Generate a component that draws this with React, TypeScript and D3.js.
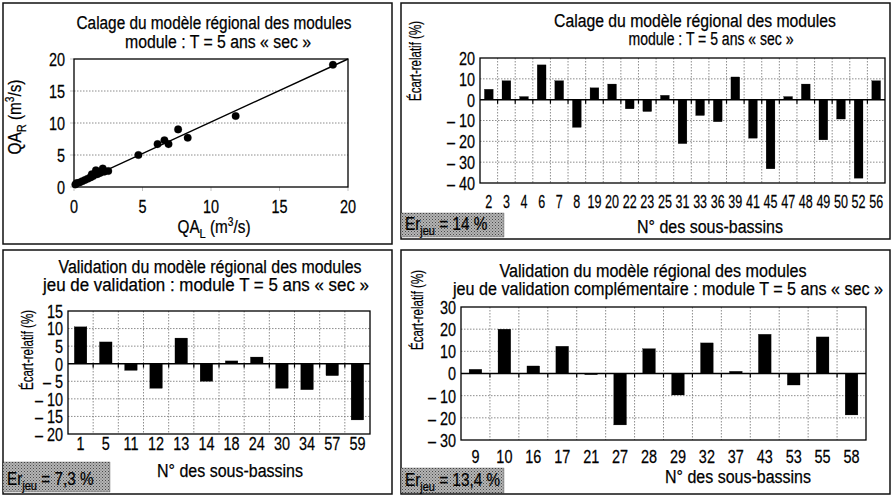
import { useEffect, useRef } from "react";
import * as d3 from "d3";

const FONT = "'Liberation Sans', Arial, sans-serif";

// calage: QA_L (x) vs QA_R (y), m3/s
const scatterQAL = [
  0.1, 0.2, 0.4, 0.6, 0.8, 1.0, 1.2, 1.3, 1.4, 1.6, 1.7, 1.9, 2.1, 2.2, 2.5,
  4.7, 6.1, 6.6, 6.9, 7.6, 8.3, 11.8, 18.9,
];
const scatterQAR = [
  0.4, 0.6, 0.7, 0.9, 1.1, 1.3, 1.5, 2.0, 1.7, 2.6, 2.0, 2.2, 2.9, 2.4, 2.5,
  5.0, 6.7, 7.3, 6.7, 9.0, 7.7, 11.1, 19.1,
];
const fitQAL = [0, 20];
const fitQAR = [0.3, 20];
const scatterTicks = [0, 5, 10, 15, 20];

// calage: écart relatif (%) par sous-bassin
const calageSites = [
  "2", "3", "4", "6", "7", "8", "19", "20", "22", "23", "25", "31",
  "33", "36", "39", "41", "45", "47", "48", "49", "50", "52", "56",
];
const calageEcart = [
  5.0, 9.1, 1.5, 16.7, 9.1, -13.3, 5.7, 7.5, -4.4, -5.7, 2.1, -21.1,
  -7.6, -10.6, 10.9, -18.5, -33.2, 1.5, 7.5, -19.3, -9.3, -37.7, 9.1,
];
const calageTicks = [20, 10, 0, -10, -20, -30, -40];

// validation
const validSites = ["1", "5", "11", "12", "13", "14", "18", "24", "30", "34", "57", "59"];
const validEcart = [10.5, 6.2, -1.9, -7.0, 7.3, -5.0, 0.8, 1.9, -7.0, -7.4, -3.4, -16.0];
const validTicks = [15, 10, 5, 0, -5, -10, -15, -20];

// validation complémentaire
const complSites = ["9", "10", "16", "17", "21", "27", "28", "29", "32", "37", "43", "53", "55", "58"];
const complEcart = [1.9, 20.0, 3.4, 12.3, -0.4, -23.2, 11.2, -9.7, 13.8, 1.0, 17.7, -5.2, 16.5, -18.7];
const complTicks = [30, 20, 10, 0, -10, -20, -30];

type Sel = d3.Selection<SVGGElement, unknown, null, undefined>;

// condensed look: Liberation Sans squeezed horizontally
const TITLE_SX = 0.85;
const TICK_SX = 0.76;
const GRID = "#707070";

const fmt = (v: number) => (v < 0 ? `\u2013 ${-v}` : `${v}`);

function txt(
  g: Sel,
  x: number,
  y: number,
  size: number,
  sx: number,
  anchor = "middle",
  rot = 0
) {
  return g
    .append("text")
    .attr("transform", `translate(${x},${y}) rotate(${rot}) scale(${sx},1)`)
    .attr("text-anchor", anchor)
    .style("font-size", `${size}px`);
}

// text squeezed to a measured width
function fit(g: Sel, x: number, y: number, size: number, w: number, rot = 0) {
  return txt(g, x, y, size, 1, "middle", rot)
    .attr("textLength", w)
    .attr("lengthAdjust", "spacingAndGlyphs");
}

function frame(g: Sel, x: number, y: number, w: number, h: number) {
  g.append("rect")
    .attr("x", x)
    .attr("y", y)
    .attr("width", w)
    .attr("height", h)
    .attr("fill", "#fff")
    .attr("stroke", "#111")
    .attr("stroke-width", 1.5);
}

function titles(g: Sel, lines: { text: string; x: number; y: number; w: number }[]) {
  lines.forEach((l) => fit(g, l.x, l.y, 18, l.w).text(l.text));
}

function erBox(g: Sel, x: number, y: number, w: number, h: number, val: string) {
  g.append("rect")
    .attr("x", x)
    .attr("y", y)
    .attr("width", w)
    .attr("height", h)
    .attr("fill", "url(#stip)");
  const t = txt(g, x + 4, y + h - 7, 18, TITLE_SX, "start");
  t.append("tspan").text("Er");
  t.append("tspan").attr("dy", 5).style("font-size", "13px").text("jeu");
  t.append("tspan").attr("dy", -5).text(` = ${val}`);
}

interface BarCfg {
  sites: string[];
  values: number[];
  ticks: number[];
  plot: { left: number; right: number; top: number; bottom: number };
  barFrac: number;
  xTickY: number;
  xTickSx: number;
  xLabel: { x: number; y: number };
  yLab: { x: number; y: number };
}

function barChart(g: Sel, c: BarCfg) {
  const { plot } = c;
  const x = d3.scaleBand<string>().domain(c.sites).range([plot.left, plot.right]);
  const y = d3
    .scaleLinear()
    .domain([d3.min(c.ticks)!, d3.max(c.ticks)!])
    .range([plot.bottom, plot.top]);
  const bw = x.bandwidth();

  // grid
  g.append("g")
    .selectAll("line")
    .data(c.ticks.slice(1, -1).filter((t) => t !== 0))
    .join("line")
    .attr("x1", plot.left)
    .attr("x2", plot.right)
    .attr("y1", (d) => y(d))
    .attr("y2", (d) => y(d))
    .attr("stroke", GRID)
    .attr("stroke-width", 0.8)
    .attr("stroke-dasharray", "1.5,1.5");
  g.append("g")
    .selectAll("line")
    .data(c.sites.slice(1))
    .join("line")
    .attr("x1", (d) => x(d)!)
    .attr("x2", (d) => x(d)!)
    .attr("y1", plot.top)
    .attr("y2", plot.bottom)
    .attr("stroke", GRID)
    .attr("stroke-width", 0.8)
    .attr("stroke-dasharray", "1.5,1.5");

  // bars
  g.append("g")
    .selectAll("rect")
    .data(c.values)
    .join("rect")
    .attr("x", (_d, i) => x(c.sites[i])! + (bw * (1 - c.barFrac)) / 2)
    .attr("width", bw * c.barFrac)
    .attr("y", (d) => y(Math.max(0, d)))
    .attr("height", (d) => Math.max(1.2, Math.abs(y(d) - y(0))))
    .attr("fill", "#000");

  // zero line + ticks
  g.append("line")
    .attr("x1", plot.left)
    .attr("x2", plot.right)
    .attr("y1", y(0))
    .attr("y2", y(0))
    .attr("stroke", "#000")
    .attr("stroke-width", 1.5);
  g.append("g")
    .selectAll("line")
    .data(c.sites.slice(1))
    .join("line")
    .attr("x1", (d) => x(d)!)
    .attr("x2", (d) => x(d)!)
    .attr("y1", y(0))
    .attr("y2", y(0) + 4)
    .attr("stroke", "#000")
    .attr("stroke-width", 1.2);

  g.append("rect")
    .attr("x", plot.left)
    .attr("y", plot.top)
    .attr("width", plot.right - plot.left)
    .attr("height", plot.bottom - plot.top)
    .attr("fill", "none")
    .attr("stroke", "#000")
    .attr("stroke-width", 1.3);

  // y tick labels
  g.append("g")
    .selectAll("text")
    .data(c.ticks)
    .join("text")
    .attr("transform", (d) => `translate(${plot.left - 5},${y(d)}) scale(${TICK_SX},1)`)
    .attr("dy", "0.36em")
    .attr("text-anchor", "end")
    .style("font-size", "19px")
    .text((d) => fmt(d));

  // x tick labels
  g.append("g")
    .selectAll("text")
    .data(c.sites)
    .join("text")
    .attr("transform", (d) => `translate(${x(d)! + bw / 2},${c.xTickY}) scale(${c.xTickSx},1)`)
    .attr("text-anchor", "middle")
    .style("font-size", "19px")
    .text((d) => d);

  fit(g, c.xLabel.x, c.xLabel.y, 18, 146).text("N° des sous-bassins");
  fit(g, c.yLab.x, c.yLab.y, 17, 80, -90).text("Écart-relatif (%)");
}

function scatterChart(g: Sel) {
  const plot = { left: 74, right: 348, top: 59, bottom: 187 };
  const x = d3.scaleLinear().domain([0, 20]).range([plot.left, plot.right]);
  const y = d3.scaleLinear().domain([0, 20]).range([plot.bottom, plot.top]);

  g.append("g")
    .selectAll("line")
    .data(scatterTicks.slice(1, -1))
    .join("line")
    .attr("x1", plot.left)
    .attr("x2", plot.right)
    .attr("y1", (d) => y(d))
    .attr("y2", (d) => y(d))
    .attr("stroke", GRID)
    .attr("stroke-width", 0.8)
    .attr("stroke-dasharray", "1.5,1.5");

  g.append("rect")
    .attr("x", plot.left)
    .attr("y", plot.top)
    .attr("width", plot.right - plot.left)
    .attr("height", plot.bottom - plot.top)
    .attr("fill", "none")
    .attr("stroke", "#000")
    .attr("stroke-width", 1.3);

  // ticks
  g.append("g")
    .selectAll("line")
    .data(scatterTicks)
    .join("line")
    .attr("x1", (d) => x(d))
    .attr("x2", (d) => x(d))
    .attr("y1", plot.bottom)
    .attr("y2", plot.bottom + 4)
    .attr("stroke", "#000");
  g.append("g")
    .selectAll("line")
    .data(scatterTicks)
    .join("line")
    .attr("x1", plot.left - 4)
    .attr("x2", plot.left)
    .attr("y1", (d) => y(d))
    .attr("y2", (d) => y(d))
    .attr("stroke", "#000");

  const line = d3
    .line<number>()
    .x((d) => x(d))
    .y((_d, i) => y(fitQAR[i]));
  g.append("path")
    .attr("d", line(fitQAL))
    .attr("fill", "none")
    .attr("stroke", "#000")
    .attr("stroke-width", 1.4);

  g.append("g")
    .selectAll("circle")
    .data(scatterQAL)
    .join("circle")
    .attr("cx", (d) => x(d))
    .attr("cy", (_d, i) => y(scatterQAR[i]))
    .attr("r", 3.8)
    .attr("fill", "#000");

  g.append("g")
    .selectAll("text")
    .data(scatterTicks)
    .join("text")
    .attr("transform", (d) => `translate(${x(d)},213) scale(${TICK_SX},1)`)
    .attr("text-anchor", "middle")
    .style("font-size", "19px")
    .text((d) => d);
  g.append("g")
    .selectAll("text")
    .data(scatterTicks)
    .join("text")
    .attr("transform", (d) => `translate(${plot.left - 9},${y(d)}) scale(${TICK_SX},1)`)
    .attr("dy", "0.36em")
    .attr("text-anchor", "end")
    .style("font-size", "19px")
    .text((d) => d);

  const unit = (t: d3.Selection<SVGTextElement, unknown, null, undefined>, sub: string) => {
    t.append("tspan").text("QA");
    t.append("tspan").attr("dy", 5).style("font-size", "13px").text(sub);
    t.append("tspan").attr("dy", -5).text(" (m");
    t.append("tspan").attr("dy", -7).style("font-size", "12px").text("3");
    t.append("tspan").attr("dy", 7).text("/s)");
  };
  unit(txt(g, 214, 233, 18, TITLE_SX) as any, "L");
  unit(txt(g, 21, 117, 18, TITLE_SX, "middle", -90) as any, "R");
}

export default function App() {
  const svgRef = useRef<SVGSVGElement>(null);

  useEffect(() => {
    if (!svgRef.current) return;
    const svg = d3.select(svgRef.current);
    svg.selectAll("*").remove();

    const defs = svg.append("defs");
    const pat = defs
      .append("pattern")
      .attr("id", "stip")
      .attr("width", 3)
      .attr("height", 3)
      .attr("patternUnits", "userSpaceOnUse");
    pat.append("rect").attr("width", 3).attr("height", 3).attr("fill", "#b4b4b4");
    pat.append("rect").attr("width", 1).attr("height", 1).attr("fill", "#4a4a4a");
    pat.append("rect").attr("x", 1.5).attr("y", 1.5).attr("width", 1).attr("height", 1).attr("fill", "#666");

    const root = svg
      .append("g")
      .style("font-family", FONT)
      .style("fill", "#000")
      .style("stroke", "#000")
      .style("stroke-width", 0.25) as unknown as Sel;

    // top-left: scatter
    const tl = root.append("g") as Sel;
    frame(tl, 3, 3, 389, 241);
    titles(tl, [
      { text: "Calage du modèle régional des modules", x: 214, y: 29, w: 275 },
      { text: "module : T = 5 ans « sec »", x: 218, y: 48, w: 186 },
    ]);
    scatterChart(tl);

    // top-right: calage bars
    const tr = root.append("g") as Sel;
    frame(tr, 401, 3, 489, 236);
    titles(tr, [
      { text: "Calage du modèle régional des modules", x: 695, y: 27, w: 282 },
      { text: "module : T = 5 ans « sec »", x: 711, y: 45, w: 165 },
    ]);
    barChart(tr, {
      sites: calageSites,
      values: calageEcart,
      ticks: calageTicks,
      plot: { left: 480, right: 885, top: 58, bottom: 183 },
      barFrac: 0.5,
      xTickY: 208,
      xTickSx: 0.66,
      xLabel: { x: 710, y: 233 },
      yLab: { x: 421, y: 61 },
    });
    erBox(tr, 401, 213, 103, 24, "14 %");

    // bottom-left: validation
    const bl = root.append("g") as Sel;
    frame(bl, 3, 250, 389, 244);
    titles(bl, [
      { text: "Validation du modèle régional des modules", x: 210, y: 273, w: 303 },
      { text: "jeu de validation : module T = 5 ans « sec »", x: 206, y: 291, w: 326 },
    ]);
    barChart(bl, {
      sites: validSites,
      values: validEcart,
      ticks: validTicks,
      plot: { left: 68, right: 370, top: 311, bottom: 434 },
      barFrac: 0.5,
      xTickY: 450,
      xTickSx: 0.76,
      xLabel: { x: 230, y: 477 },
      yLab: { x: 33, y: 350 },
    });
    erBox(bl, 3, 462, 107, 30, "7,3 %");

    // bottom-right: validation complémentaire
    const br = root.append("g") as Sel;
    frame(br, 401, 250, 489, 244);
    titles(br, [
      { text: "Validation du modèle régional des modules", x: 653, y: 277, w: 307 },
      { text: "jeu de validation complémentaire : module T = 5 ans « sec »", x: 668, y: 295, w: 430 },
    ]);
    barChart(br, {
      sites: complSites,
      values: complEcart,
      ticks: complTicks,
      plot: { left: 461, right: 866, top: 307, bottom: 440 },
      barFrac: 0.44,
      xTickY: 463,
      xTickSx: 0.76,
      xLabel: { x: 738, y: 483 },
      yLab: { x: 423, y: 310 },
    });
    erBox(br, 401, 468, 103, 25, "13,4 %");
  }, []);

  return (
    <svg
      ref={svgRef}
      width={894}
      height={497}
      style={{ position: "absolute", left: 0, top: 0, background: "#fff" }}
    />
  );
}
